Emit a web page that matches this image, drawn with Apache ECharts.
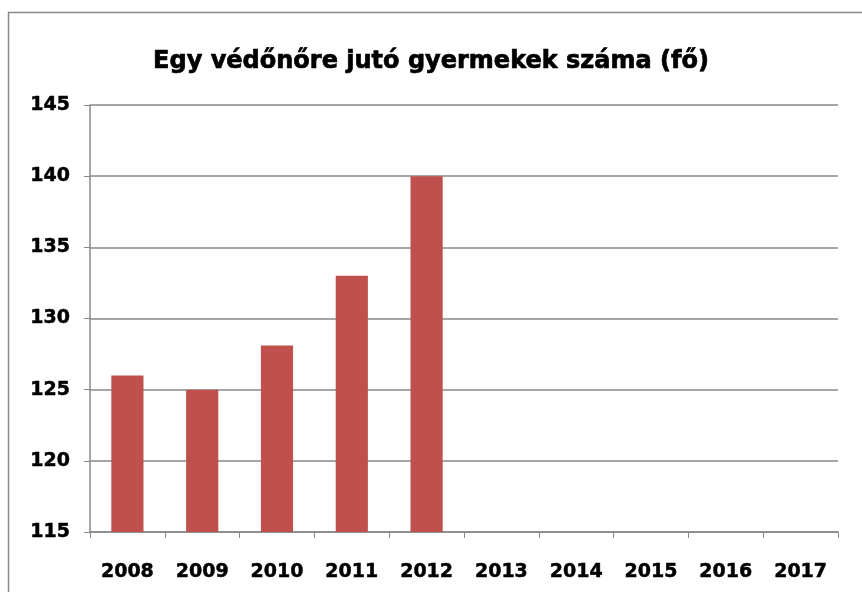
<!DOCTYPE html>
<html>
<head>
<meta charset="utf-8">
<script src="https://cdn.jsdelivr.net/npm/echarts@6/dist/echarts.min.js"></script>
<style>
  html, body { margin: 0; padding: 0; background: #fff; }
  #chart { width: 862px; height: 592px; }
</style>
</head>
<body>
<div id="chart"></div>
<script>
  const years = ['2008', '2009', '2010', '2011', '2012', '2013', '2014', '2015', '2016', '2017']
  const children = [126, 125, 128.1, 133, 140, null, null, null, null, null]
  const titleText = 'Egy védőnőre jutó gyermekek száma (fő)'

  const font = '"DejaVu Sans", "Liberation Sans", sans-serif'

  const myChart = echarts.init(document.getElementById('chart'))
  myChart.setOption({
    animation: false,
    title: {
      text: titleText,
      left: 'center',
      top: 45,
      textStyle: {
        fontFamily: font, fontWeight: 'bold', fontSize: 24, color: '#000',
        textBorderColor: '#000', textBorderWidth: 0.7
      }
    },
    graphic: [{
      type: 'rect',
      shape: { x: 8.5, y: 12.5, width: 900, height: 700 },
      style: { fill: 'none', stroke: '#888', lineWidth: 1.5 }
    }],
    grid: { left: 90, right: 24, top: 105, bottom: 60 },
    xAxis: {
      type: 'category',
      data: years,
      axisLine: { lineStyle: { color: '#888', width: 1.5 } },
      axisTick: { show: true, length: 6, lineStyle: { color: '#888' } },
      axisLabel: {
        fontFamily: font, fontWeight: 'bold', fontSize: 19, color: '#000', margin: 31,
        textBorderColor: '#000', textBorderWidth: 0.5
      }
    },
    yAxis: {
      type: 'value',
      min: 115,
      max: 145,
      interval: 5,
      axisLine: { show: true, lineStyle: { color: '#888', width: 1.5 } },
      axisTick: { show: true, length: 6, lineStyle: { color: '#888' } },
      splitLine: { lineStyle: { color: '#888', width: 1.5 } },
      axisLabel: {
        fontFamily: font, fontWeight: 'bold', fontSize: 19, color: '#000', margin: 20,
        textBorderColor: '#000', textBorderWidth: 0.5
      }
    },
    series: [{
      type: 'bar',
      data: children,
      barWidth: '43%',
      itemStyle: { color: '#C0504D' }
    }]
  })
</script>
</body>
</html>
